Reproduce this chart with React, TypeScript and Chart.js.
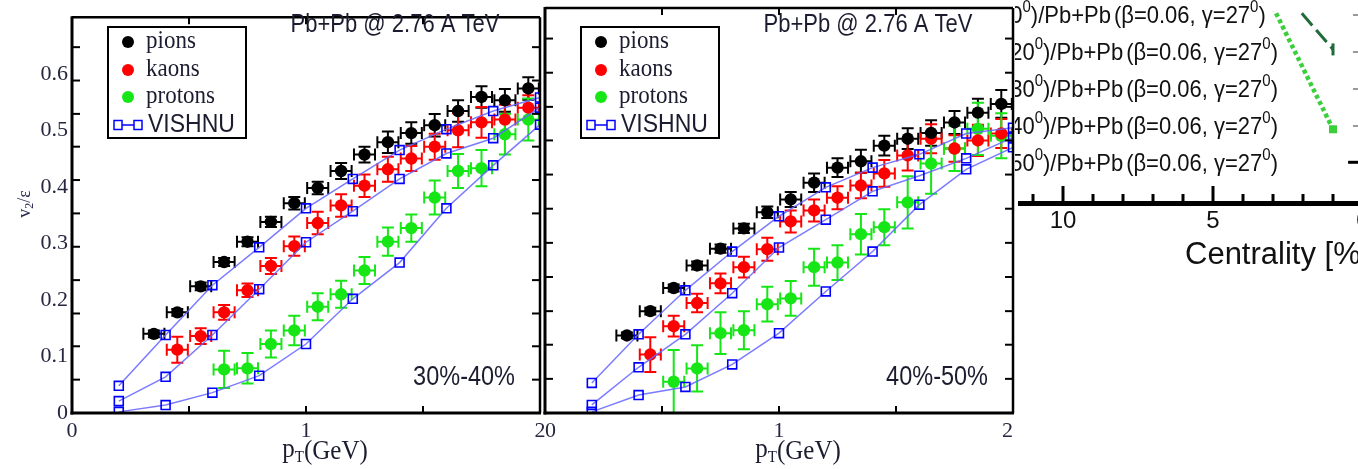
import React, { useEffect, useRef } from "react";
import { Chart, registerables } from "chart.js";

Chart.register(...registerables);

const H = 469;
const SERIF = "'Liberation Serif', 'Times New Roman', serif";
const SANS = "'Liberation Sans', Arial, sans-serif";
const INK = "#1c1c30";

// ---------------- data: v2/eps vs pT, Pb+Pb @ 2.76 A TeV ----------------
const PT_PION = [0.35, 0.45, 0.55, 0.65, 0.75, 0.85, 0.95, 1.05, 1.15, 1.25, 1.35, 1.45, 1.55, 1.65, 1.75, 1.85, 1.95];
const PT_KAON = [0.45, 0.55, 0.65, 0.75, 0.85, 0.95, 1.05, 1.15, 1.25, 1.35, 1.45, 1.55, 1.65, 1.75, 1.85, 1.95];
const PT_PROTON_3040 = [0.65, 0.75, 0.85, 0.95, 1.05, 1.15, 1.25, 1.35, 1.45, 1.55, 1.65, 1.75, 1.85, 1.95];
const PT_PROTON_4050 = [0.55, 0.65, 0.75, 0.85, 0.95, 1.05, 1.15, 1.25, 1.35, 1.45, 1.55, 1.65, 1.75, 1.85, 1.95];
const PT_VISHNU = [0.2, 0.4, 0.6, 0.8, 1.0, 1.2, 1.4, 1.6, 1.8, 2.0];
const PT_HALF_BIN = 0.045;

// 30%-40%
const PION_3040 = [0.14, 0.178, 0.224, 0.267, 0.303, 0.338, 0.371, 0.398, 0.428, 0.457, 0.479, 0.495, 0.509, 0.534, 0.559, 0.553, 0.574];
const PION_ERR_3040 = [0.006, 0.006, 0.007, 0.007, 0.008, 0.009, 0.011, 0.011, 0.014, 0.014, 0.019, 0.019, 0.02, 0.019, 0.019, 0.02, 0.02];
const KAON_3040 = [0.112, 0.136, 0.178, 0.217, 0.26, 0.295, 0.336, 0.367, 0.402, 0.431, 0.45, 0.471, 0.5, 0.514, 0.519, 0.54];
const KAON_ERR_3040 = [0.023, 0.014, 0.013, 0.012, 0.014, 0.017, 0.02, 0.02, 0.02, 0.022, 0.022, 0.023, 0.03, 0.027, 0.026, 0.022];
const PROTON_3040 = [0.077, 0.079, 0.122, 0.146, 0.188, 0.21, 0.252, 0.303, 0.327, 0.381, 0.428, 0.433, 0.493, 0.519];
const PROTON_ERR_3040 = [0.033, 0.027, 0.024, 0.026, 0.024, 0.024, 0.024, 0.025, 0.024, 0.03, 0.03, 0.032, 0.036, 0.037];
const VISH_PION_3040 = [0.048, 0.138, 0.226, 0.293, 0.362, 0.414, 0.465, 0.502, 0.534, 0.558];
const VISH_KAON_3040 = [0.021, 0.064, 0.138, 0.219, 0.302, 0.357, 0.414, 0.459, 0.486, 0.54];
const VISH_PROTON_3040 = [0.002, 0.014, 0.036, 0.066, 0.122, 0.202, 0.266, 0.362, 0.438, 0.51];

// 40%-50%
const PION_4050 = [0.134, 0.176, 0.216, 0.255, 0.284, 0.319, 0.347, 0.369, 0.398, 0.424, 0.435, 0.462, 0.474, 0.484, 0.502, 0.519, 0.534];
const PION_ERR_4050 = [0.005, 0.006, 0.006, 0.007, 0.007, 0.008, 0.01, 0.013, 0.016, 0.016, 0.02, 0.017, 0.018, 0.022, 0.02, 0.024, 0.024];
const KAON_4050 = [0.101, 0.15, 0.19, 0.224, 0.252, 0.283, 0.331, 0.35, 0.372, 0.393, 0.414, 0.445, 0.474, 0.457, 0.471, 0.483];
const KAON_ERR_4050 = [0.03, 0.018, 0.016, 0.017, 0.018, 0.02, 0.019, 0.019, 0.02, 0.022, 0.023, 0.026, 0.025, 0.023, 0.027, 0.025];
const PROTON_4050 = [0.054, 0.077, 0.138, 0.143, 0.188, 0.198, 0.252, 0.26, 0.309, 0.321, 0.364, 0.431, 0.457, 0.491, 0.479];
const PROTON_ERR_4050 = [0.055, 0.04, 0.036, 0.033, 0.03, 0.03, 0.032, 0.03, 0.035, 0.031, 0.045, 0.052, 0.039, 0.045, 0.039];
const VISH_PION_4050 = [0.052, 0.136, 0.212, 0.279, 0.34, 0.39, 0.424, 0.447, 0.483, 0.493];
const VISH_KAON_4050 = [0.014, 0.079, 0.136, 0.207, 0.286, 0.334, 0.383, 0.41, 0.44, 0.476];
const VISH_PROTON_4050 = [0.002, 0.031, 0.045, 0.084, 0.138, 0.21, 0.279, 0.36, 0.421, 0.459];

// axes
const X_MIN = 0, X_MAX = 2, X_STEP = 0.5;
const Y_MIN = 0, Y_MAX = 0.7, Y_STEP = 0.1;
const X_TICK_MARKS = [0.5, 1, 1.5];
const Y_TICK_MARKS = [0.059, 0.118, 0.176, 0.235, 0.294, 0.353, 0.412, 0.471, 0.529, 0.588, 0.647];
const LEGEND_ITEMS = ["pions", "kaons", "protons"];
const VISHNU_LABEL = "VISHNU";
const SYSTEM_LABEL = "Pb+Pb @ 2.76 A TeV";

// cropped neighbour figure (centrality axis)
const CENT_MIN = 0, CENT_MAX = 11.2;
const CENT_MINOR = [1, 2, 3, 4, 6, 7, 8, 9, 11];
const CENT_MAJOR = [5, 10];
const CENT_DOTTED_X = [3, 1];
const CENT_DOTTED_Y = [1.021, 0.384];
const CENT_DASHED_X = [3, 1];
const CENT_DASHED_Y = [1.161, 0.8];
const CENT_BLACK_X = [0.23];
const CENT_BLACK_Y = [0.212];
const RATIO_GAMMAS = ["0", "20", "30", "40", "50"];

const COLORS = { pion: "#000000", kaon: "#ff0000", proton: "#16e616", vishnu: "#0000ff", vishnuLine: "rgba(100,100,255,0.85)" };

type Series = { pt: number[]; v: number[]; err: number[]; color: string };
type PanelSpec = {
  label: string;
  showY: boolean;
  canvasLeft: number;
  canvasWidth: number;
  padLeft: number;
  padRight: number;
  xAlign: "center" | "inner";
  series: Series[];
  vishnu: number[][];
};

function drawText(ctx: CanvasRenderingContext2D, s: string, x: number, y: number, font: string, color: string, align: CanvasTextAlign = "left", sy = 1) {
  ctx.save();
  ctx.font = font;
  ctx.fillStyle = color;
  ctx.textAlign = align;
  ctx.textBaseline = "middle";
  ctx.translate(x, y);
  ctx.scale(1, sy);
  ctx.fillText(s, 0, 0);
  ctx.restore();
}

function line(ctx: CanvasRenderingContext2D, x1: number, y1: number, x2: number, y2: number) {
  ctx.beginPath();
  ctx.moveTo(x1, y1);
  ctx.lineTo(x2, y2);
  ctx.stroke();
}

function panelPlugin(spec: PanelSpec) {
  return {
    id: "panelDecor",
    beforeDatasetsDraw(chart: any) {
      const { ctx, chartArea: a } = chart;
      const x = chart.scales.x, y = chart.scales.y;
      ctx.save();
      ctx.beginPath();
      ctx.rect(a.left, a.top, a.right - a.left, a.bottom - a.top);
      ctx.clip();
      ctx.lineWidth = 2;
      for (const s of spec.series) {
        ctx.strokeStyle = s.color;
        s.pt.forEach((pt, i) => {
          const cx = x.getPixelForValue(pt), cy = y.getPixelForValue(s.v[i]);
          const xl = x.getPixelForValue(pt - PT_HALF_BIN), xr = x.getPixelForValue(pt + PT_HALF_BIN);
          const yt = y.getPixelForValue(s.v[i] + s.err[i]), yb = y.getPixelForValue(s.v[i] - s.err[i]);
          ctx.beginPath();
          ctx.moveTo(xl, cy); ctx.lineTo(xr, cy);
          ctx.moveTo(xl, cy - 6); ctx.lineTo(xl, cy + 6);
          ctx.moveTo(xr, cy - 6); ctx.lineTo(xr, cy + 6);
          ctx.moveTo(cx, yt); ctx.lineTo(cx, yb);
          ctx.moveTo(cx - 6, yt); ctx.lineTo(cx + 6, yt);
          ctx.moveTo(cx - 6, yb); ctx.lineTo(cx + 6, yb);
          ctx.stroke();
        });
      }
      ctx.restore();
    },
    afterDraw(chart: any) {
      const { ctx, chartArea: a } = chart;
      const x = chart.scales.x, y = chart.scales.y;
      ctx.save();
      ctx.strokeStyle = "#000";
      // frame
      ctx.lineWidth = 3;
      line(ctx, a.left, a.top - 1, a.left, a.bottom + 1.5);
      line(ctx, a.left - 1.5, a.bottom, a.right + 1, a.bottom);
      ctx.lineWidth = 2.5;
      line(ctx, a.left, a.top, a.right, a.top);
      line(ctx, a.right, a.top, a.right, a.bottom);
      // inward ticks
      ctx.lineWidth = 2;
      for (const v of X_TICK_MARKS) {
        const px = x.getPixelForValue(v);
        line(ctx, px, a.bottom, px, a.bottom - 7);
        line(ctx, px, a.top, px, a.top + 7);
      }
      for (const v of Y_TICK_MARKS) {
        const py = y.getPixelForValue(v);
        line(ctx, a.left, py, a.left + 8, py);
        line(ctx, a.right, py, a.right - 8, py);
      }
      // legend box
      const bx = a.left + 36, by = 27, bw = 138, bh = 111;
      ctx.lineWidth = 2;
      ctx.fillStyle = "#fff";
      ctx.fillRect(bx, by, bw, bh);
      ctx.strokeRect(bx, by, bw, bh);
      const rows = [42, 70, 97];
      const cols = [COLORS.pion, COLORS.kaon, COLORS.proton];
      LEGEND_ITEMS.forEach((name, i) => {
        ctx.fillStyle = cols[i];
        ctx.beginPath();
        ctx.arc(bx + 20, rows[i], 6, 0, Math.PI * 2);
        ctx.fill();
        drawText(ctx, name, bx + 38, rows[i] - 1, `23px ${SERIF}`, INK, "left", 1.12);
      });
      const vy = 125;
      ctx.strokeStyle = COLORS.vishnu;
      ctx.lineWidth = 1.5;
      line(ctx, bx + 14, vy, bx + 26, vy);
      ctx.strokeRect(bx + 6, vy - 4.5, 8, 9);
      ctx.strokeRect(bx + 26, vy - 4.5, 8, 9);
      drawText(ctx, VISHNU_LABEL, bx + 40, vy, `23px ${SANS}`, INK, "left", 1.12);
      // title & centrality
      drawText(ctx, SYSTEM_LABEL, a.left + 323, 25, `22px ${SANS}`, INK, "center", 1.15);
      drawText(ctx, spec.label, a.right - 25, 377, `23.5px ${SANS}`, INK, "right", 1.18);
      // x title p_T(GeV)
      ctx.font = `25px ${SERIF}`;
      const wp = ctx.measureText("p").width;
      const wg = ctx.measureText("(GeV)").width;
      ctx.font = `15px ${SERIF}`;
      const wt = ctx.measureText("T").width;
      const tot = wp + wt + wg;
      const sx = a.left + 253 - tot / 2;
      drawText(ctx, "p", sx, 450, `25px ${SERIF}`, INK, "left", 1.12);
      drawText(ctx, "T", sx + wp, 458, `15px ${SERIF}`, INK, "left", 1.1);
      drawText(ctx, "(GeV)", sx + wp + wt, 452, `25px ${SERIF}`, INK, "left", 1.12);
      // y title v2/eps
      if (spec.showY) {
        ctx.save();
        ctx.translate(25, 204);
        ctx.rotate(-Math.PI / 2);
        ctx.font = `18px ${SERIF}`;
        const w1 = ctx.measureText("v").width;
        ctx.font = `12px ${SERIF}`;
        const w2 = ctx.measureText("2").width;
        ctx.font = `18px ${SERIF}`;
        const w3 = ctx.measureText("/ε").width;
        const t0 = -(w1 + w2 + w3) / 2;
        drawText(ctx, "v", t0, 0, `18px ${SERIF}`, "#2a2a55");
        drawText(ctx, "2", t0 + w1, 5, `12px ${SERIF}`, "#2a2a55");
        drawText(ctx, "/ε", t0 + w1 + w2, 0, `18px ${SERIF}`, "#2a2a55");
        ctx.restore();
      }
      ctx.restore();
    },
  };
}

function panelConfig(spec: PanelSpec): any {
  const vishDatasets = spec.vishnu.map((vals, k) => ({
    label: `VISHNU ${LEGEND_ITEMS[k]}`,
    data: PT_VISHNU.map((pt, i) => ({ x: pt, y: vals[i] })),
    showLine: true,
    borderColor: COLORS.vishnuLine,
    borderWidth: 1.5,
    pointStyle: "rect",
    pointRadius: 6.3,
    pointBorderColor: COLORS.vishnu,
    pointBackgroundColor: "rgba(255,255,255,0)",
    pointBorderWidth: 1.6,
    tension: 0,
  }));
  const markerDatasets = spec.series.map((s, k) => ({
    label: LEGEND_ITEMS[k],
    data: s.pt.map((pt, i) => ({ x: pt, y: s.v[i] })),
    showLine: false,
    pointStyle: "circle",
    pointRadius: 6.2,
    pointBackgroundColor: s.color,
    pointBorderColor: s.color,
    pointBorderWidth: 0,
  }));
  return {
    type: "scatter",
    data: { datasets: [...vishDatasets, ...markerDatasets] },
    options: {
      animation: false,
      responsive: false,
      devicePixelRatio: 1,
      layout: { padding: { left: spec.padLeft, right: spec.padRight, top: 7, bottom: 0 } },
      plugins: { legend: { display: false }, tooltip: { enabled: false }, title: { display: false } },
      scales: {
        x: {
          type: "linear",
          min: X_MIN,
          max: X_MAX,
          grid: { display: false, drawTicks: false },
          border: { display: false },
          ticks: {
            stepSize: X_STEP,
            autoSkip: false,
            maxRotation: 0,
            align: spec.xAlign,
            padding: 5,
            color: "#262640",
            font: { family: SERIF, size: 22 },
            callback: (v: number) => (Math.abs(v - Math.round(v)) < 1e-6 ? String(Math.round(v)) : ""),
          },
          afterFit: (s: any) => { s.height = H - 413; },
        },
        y: {
          type: "linear",
          display: spec.showY,
          min: Y_MIN,
          max: Y_MAX,
          grid: { display: false, drawTicks: false },
          border: { display: false },
          ticks: {
            stepSize: Y_STEP,
            autoSkip: false,
            padding: 4,
            color: "#262640",
            font: { family: SERIF, size: 22 },
            callback: (v: number) => (v > 0.65 ? "" : v < 1e-6 ? "0" : v.toFixed(1)),
          },
          afterFit: (s: any) => { s.width = spec.showY ? 72 : 0; },
        },
      },
    },
    plugins: [panelPlugin(spec)],
  };
}

const PANEL_3040: PanelSpec = {
  label: "30%-40%",
  showY: true,
  canvasLeft: 0,
  canvasWidth: 560,
  padLeft: 0,
  padRight: 20,
  xAlign: "center",
  series: [
    { pt: PT_PION, v: PION_3040, err: PION_ERR_3040, color: COLORS.pion },
    { pt: PT_KAON, v: KAON_3040, err: KAON_ERR_3040, color: COLORS.kaon },
    { pt: PT_PROTON_3040, v: PROTON_3040, err: PROTON_ERR_3040, color: COLORS.proton },
  ],
  vishnu: [VISH_PION_3040, VISH_KAON_3040, VISH_PROTON_3040],
};

const PANEL_4050: PanelSpec = {
  label: "40%-50%",
  showY: false,
  canvasLeft: 525,
  canvasWidth: 510,
  padLeft: 20,
  padRight: 22,
  xAlign: "inner",
  series: [
    { pt: PT_PION, v: PION_4050, err: PION_ERR_4050, color: COLORS.pion },
    { pt: PT_KAON, v: KAON_4050, err: KAON_ERR_4050, color: COLORS.kaon },
    { pt: PT_PROTON_4050, v: PROTON_4050, err: PROTON_ERR_4050, color: COLORS.proton },
  ],
  vishnu: [VISH_PION_4050, VISH_KAON_4050, VISH_PROTON_4050],
};

// ---------------- neighbour (cropped) centrality figure ----------------
const centPlugin = {
  id: "centDecor",
  afterDraw(chart: any) {
    const { ctx, chartArea: a } = chart;
    const x = chart.scales.x;
    ctx.save();
    ctx.strokeStyle = "#000";
    ctx.lineWidth = 5;
    line(ctx, 3, a.bottom + 0.5, chart.width, a.bottom + 0.5);
    ctx.lineWidth = 3;
    for (const v of CENT_MINOR) {
      const px = x.getPixelForValue(v);
      line(ctx, px, a.bottom - 2, px, a.bottom - 9);
    }
    for (const v of CENT_MAJOR) {
      const px = x.getPixelForValue(v);
      line(ctx, px, a.bottom - 2, px, a.bottom - 17);
    }
    // legend rows (clipped on the left)
    const main = `22px ${SANS}`, sup = `15px ${SANS}`;
    const runs = (g: string) => [
      { t: "γ=", s: false },
      { t: g, s: false },
      { t: "0", s: true },
      { t: ")/Pb+Pb", s: false },
      { t: "(β=0.06, γ=27", s: false, gap: 3 },
      { t: "0", s: true },
      { t: ")", s: false },
    ];
    const widthOf = (rs: any[]) =>
      rs.reduce((acc, r) => {
        ctx.font = r.s ? sup : main;
        return acc + ctx.measureText(r.t).width + (r.gap || 0);
      }, 0);
    const startX = 1278 - 1015 - widthOf(runs("20"));
    RATIO_GAMMAS.forEach((g, i) => {
      const yy = 16 + i * 37;
      let cx = startX;
      for (const r of runs(g) as any[]) {
        cx += r.gap || 0;
        drawText(ctx, r.t, cx, r.s ? yy - 8 : yy, r.s ? sup : main, "#111", "left", 1.08);
        ctx.font = r.s ? sup : main;
        cx += ctx.measureText(r.t).width;
      }
      if (i < 4) {
        ctx.strokeStyle = "#777";
        ctx.lineWidth = 1.5;
        line(ctx, 1353 - 1015, yy - 1, 1360 - 1015, yy - 1);
      }
    });
    drawText(ctx, "Centrality [%]", 1185 - 1015, 255, `31px ${SANS}`, "#111", "left", 1.0);
    ctx.restore();
  },
};

function centConfig(): any {
  return {
    type: "scatter",
    data: {
      datasets: [
        {
          label: "dotted",
          data: CENT_DOTTED_X.map((c, i) => ({ x: c, y: CENT_DOTTED_Y[i] })),
          showLine: true,
          borderColor: "#3ccf3c",
          borderWidth: 4.5,
          borderDash: [4, 3],
          pointStyle: "rect",
          pointRadius: [0, 2.5],
          pointBackgroundColor: "#3ccf3c",
          pointBorderColor: "#3ccf3c",
        },
        {
          label: "dashed",
          data: CENT_DASHED_X.map((c, i) => ({ x: c, y: CENT_DASHED_Y[i] })),
          showLine: true,
          borderColor: "#1f6b3a",
          borderWidth: 3,
          borderDash: [16, 6],
          pointStyle: "line",
          pointRotation: 90,
          pointRadius: [0, 6],
          pointBorderColor: "#1f6b3a",
          pointBorderWidth: 3,
        },
        {
          label: "black",
          data: CENT_BLACK_X.map((c, i) => ({ x: c, y: CENT_BLACK_Y[i] })),
          showLine: false,
          pointStyle: "line",
          pointRadius: 8,
          pointBorderColor: "#000",
          pointBorderWidth: 3,
        },
      ],
    },
    options: {
      animation: false,
      responsive: false,
      devicePixelRatio: 1,
      layout: { padding: { left: 12, right: 12, top: 0, bottom: 0 } },
      plugins: { legend: { display: false }, tooltip: { enabled: false } },
      scales: {
        x: {
          type: "linear",
          reverse: true,
          min: CENT_MIN,
          max: CENT_MAX,
          grid: { display: false, drawTicks: false },
          border: { display: false },
          ticks: {
            stepSize: 1,
            autoSkip: false,
            maxRotation: 0,
            padding: 4,
            color: "#111",
            font: { family: SANS, size: 24 },
            callback: (v: number) => (Math.abs(v % 5) < 1e-6 ? String(v) : ""),
          },
          afterFit: (s: any) => { s.height = H - 203; },
        },
        y: { display: false, min: 0, max: 1 },
      },
    },
    plugins: [centPlugin],
  };
}

function ChartBox({ left, width, make }: { left: number; width: number; make: () => any }) {
  const ref = useRef<HTMLCanvasElement>(null);
  useEffect(() => {
    const c = new Chart(ref.current as HTMLCanvasElement, make());
    return () => c.destroy();
  }, []);
  return (
    <div style={{ position: "absolute", left, top: 0, width, height: H }}>
      <canvas ref={ref} width={width} height={H} style={{ width, height: H, display: "block" }} />
    </div>
  );
}

export default function App() {
  return (
    <div style={{ position: "fixed", left: 0, top: 0, width: 1358, height: H, overflow: "hidden", background: "#fff" }}>
      <ChartBox left={PANEL_3040.canvasLeft} width={PANEL_3040.canvasWidth} make={() => panelConfig(PANEL_3040)} />
      <ChartBox left={PANEL_4050.canvasLeft} width={PANEL_4050.canvasWidth} make={() => panelConfig(PANEL_4050)} />
      <ChartBox left={1015} width={360} make={centConfig} />
    </div>
  );
}
